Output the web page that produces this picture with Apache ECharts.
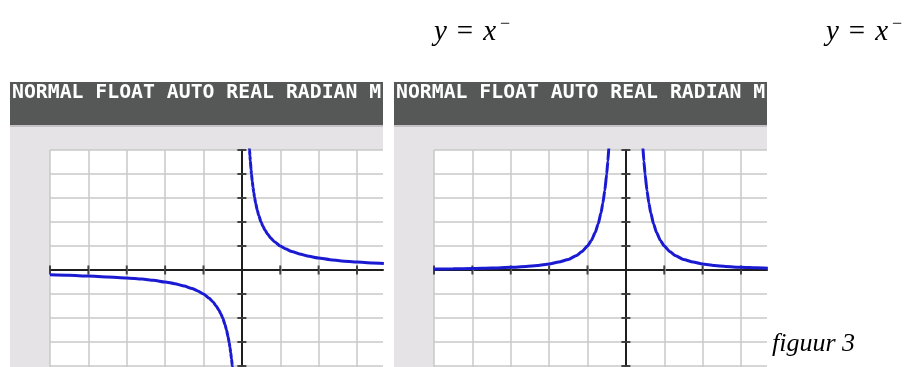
<!DOCTYPE html>
<html>
<head>
<meta charset="utf-8">
<script src="https://cdn.jsdelivr.net/npm/echarts@6/dist/echarts.min.js"></script>
<style>
html,body{margin:0;padding:0;background:#fff;}
#c{width:906px;height:367px;}
</style>
</head>
<body>
<div id="c"></div>
<script>
// ---- data ----
const statusText = "NORMAL FLOAT AUTO REAL RADIAN M";
const figCaption = "figuur 3";
const xTickValues = [-5, -4, -3, -2, -1, 0, 1, 2, 3];
const yTickValues = [-4, -3, -2, -1, 0, 1, 2, 3, 4, 5];
// left panel: y = x^-1
const invPosX = [0.17, 0.19, 0.2, 0.21, 0.22, 0.24, 0.25, 0.27, 0.29, 0.31, 0.33, 0.36, 0.4, 0.44, 0.5, 0.55, 0.6, 0.67, 0.75, 0.85, 1, 1.15, 1.3, 1.5, 1.75, 2, 2.3, 2.6, 3, 3.4, 3.7];
const invPosY = [5.9, 5.3, 5, 4.76, 4.55, 4.17, 4, 3.7, 3.45, 3.23, 3.03, 2.78, 2.5, 2.27, 2, 1.82, 1.67, 1.5, 1.33, 1.18, 1, 0.87, 0.77, 0.67, 0.57, 0.5, 0.43, 0.38, 0.33, 0.29, 0.27];
const invNegX = [-5, -4.5, -4, -3.5, -3, -2.6, -2.3, -2, -1.75, -1.5, -1.3, -1.15, -1, -0.85, -0.75, -0.67, -0.6, -0.55, -0.5, -0.44, -0.4, -0.36, -0.33, -0.31, -0.29, -0.27, -0.25, -0.24, -0.22];
const invNegY = [-0.2, -0.22, -0.25, -0.29, -0.33, -0.38, -0.43, -0.5, -0.57, -0.67, -0.77, -0.87, -1, -1.18, -1.33, -1.5, -1.67, -1.82, -2, -2.27, -2.5, -2.78, -3.03, -3.23, -3.45, -3.7, -4, -4.17, -4.55];
// right panel: y = x^-2
const sqLeftX = [-5, -4.5, -4, -3.5, -3, -2.6, -2.3, -2, -1.75, -1.5, -1.3, -1.15, -1, -0.9, -0.8, -0.72, -0.65, -0.6, -0.55, -0.5, -0.47, -0.44, -0.42, -0.4];
const sqLeftY = [0.04, 0.05, 0.06, 0.08, 0.11, 0.15, 0.19, 0.25, 0.33, 0.44, 0.59, 0.76, 1, 1.23, 1.56, 1.93, 2.37, 2.78, 3.31, 4, 4.53, 5.17, 5.67, 6.25];
const sqRightX = [0.4, 0.42, 0.44, 0.47, 0.5, 0.55, 0.6, 0.65, 0.72, 0.8, 0.9, 1, 1.15, 1.3, 1.5, 1.75, 2, 2.3, 2.6, 3, 3.4, 3.7];
const sqRightY = [6.25, 5.67, 5.17, 4.53, 4, 3.31, 2.78, 2.37, 1.93, 1.56, 1.23, 1, 0.76, 0.59, 0.44, 0.33, 0.25, 0.19, 0.15, 0.11, 0.09, 0.07];

const zip = (a, b) => a.map((v, i) => [v, b[i]]);

// ---- layout ----
const PX_X = 38.375, PX_Y = 24;
const gridW = 333, gridH = 217, gridTop = 150;
const xMin = xTickValues[0];
const xMax = xMin + gridW / PX_X;
const yMax = yTickValues[yTickValues.length - 1], yMin = yMax - gridH / PX_Y;
const panels = [{x0: 10, gl: 50}, {x0: 394, gl: 434}];

const chart = echarts.init(document.getElementById('c'), null, {renderer: 'canvas'});

const grids = [], xAxes = [], yAxes = [], series = [];
const axisCol = '#1e1e1e', gridCol = '#c9c9c9';
panels.forEach((p, gi) => {
  grids.push({left: p.gl, top: gridTop, width: gridW, height: gridH, show: true,
    backgroundColor: '#ffffff', borderWidth: 0});
  xAxes.push({type: 'value', gridIndex: gi, min: xMin, max: xMax, interval: 1, z: 4,
    axisLine: {onZero: true, lineStyle: {color: axisCol, width: 2}},
    axisTick: {show: false}, axisLabel: {show: false}, splitLine: {show: false}});
  yAxes.push({type: 'value', gridIndex: gi, min: yMin, max: yMax, interval: 1, z: 4,
    axisLine: {onZero: true, lineStyle: {color: axisCol, width: 2}},
    axisTick: {show: false}, axisLabel: {show: false}, splitLine: {show: false}});
});

const curveStyle = {color: '#1a1ad2', width: 3};
const mk = (gi, data) => ({type: 'line', xAxisIndex: gi, yAxisIndex: gi, data, showSymbol: false,
  smooth: 0.2, smoothMonotone: 'x', clip: true, lineStyle: curveStyle, itemStyle: {color: curveStyle.color}, z: 6, silent: true});
// grid lines drawn through the axes' scales as markLines
const gridLines = (gi) => ({type: 'line', xAxisIndex: gi, yAxisIndex: gi, data: [], silent: true, z: 1,
  markLine: {silent: true, symbol: 'none', label: {show: false}, animation: false,
    lineStyle: {color: gridCol, width: 1.5, type: 'solid'},
    data: xTickValues.filter(v => v !== 0).map(v => ({xAxis: v}))
      .concat(yTickValues.filter(v => v !== 0).map(v => ({yAxis: v})))}});
// crossing tick marks on the axes
const tickMarks = (gi) => [
  {type: 'scatter', xAxisIndex: gi, yAxisIndex: gi, silent: true, z: 5, clip: false,
   symbol: 'rect', symbolSize: [2, 9], itemStyle: {color: axisCol},
   data: xTickValues.filter(v => v !== 0).map(v => [v, 0])},
  {type: 'scatter', xAxisIndex: gi, yAxisIndex: gi, silent: true, z: 5, clip: false,
   symbol: 'rect', symbolSize: [9, 2], itemStyle: {color: axisCol},
   data: yTickValues.filter(v => v !== 0).map(v => [0, v])}
];
series.push(gridLines(0), gridLines(1));
series.push(...tickMarks(0), ...tickMarks(1));
series.push(mk(0, zip(invPosX, invPosY)));
series.push(mk(0, zip(invNegX, invNegY)));
series.push(mk(1, zip(sqLeftX, sqLeftY)));
series.push(mk(1, zip(sqRightX, sqRightY)));

const graphics = [];
panels.forEach(p => {
  graphics.push({type: 'rect', z: -10, shape: {x: p.x0, y: 125, width: 373, height: 242}, style: {fill: '#e6e3e6'}});
  graphics.push({type: 'rect', z: -9, shape: {x: p.x0, y: 82, width: 373, height: 43}, style: {fill: '#565857'}});
  graphics.push({type: 'rect', z: -9, shape: {x: p.x0, y: 125, width: 373, height: 2}, style: {fill: '#c4c2c4'}});
  graphics.push({type: 'text', z: 10, left: p.x0 + 2, top: 83,
    style: {text: statusText, fill: '#ffffff', font: 'bold 19.8px "DejaVu Sans Mono"'}});
});
const eqStyle = {
  text: '{i|y}{e|=}{i|x}{s|−}',
  fill: '#000',
  rich: {i: {fontStyle: 'italic', fontFamily: 'Liberation Serif', fontSize: 29},
         e: {fontFamily: 'Liberation Serif', fontSize: 29, padding: [0, 10, 0, 10]},
         s: {fontSize: 18, fontFamily: 'Liberation Serif', verticalAlign: 'top', padding: [0, 0, 16, 4]}}
};
graphics.push({type: 'text', left: 434, top: 15, style: Object.assign({}, eqStyle)});
graphics.push({type: 'text', left: 826, top: 15, style: Object.assign({}, eqStyle)});
graphics.push({type: 'text', left: 772, top: 331,
  style: {text: figCaption, fill: '#000', font: 'italic 26px "Liberation Serif"'}});

chart.setOption({
  animation: false,
  backgroundColor: '#ffffff',
  grid: grids, xAxis: xAxes, yAxis: yAxes, series, graphic: graphics
});
</script>
</body>
</html>
